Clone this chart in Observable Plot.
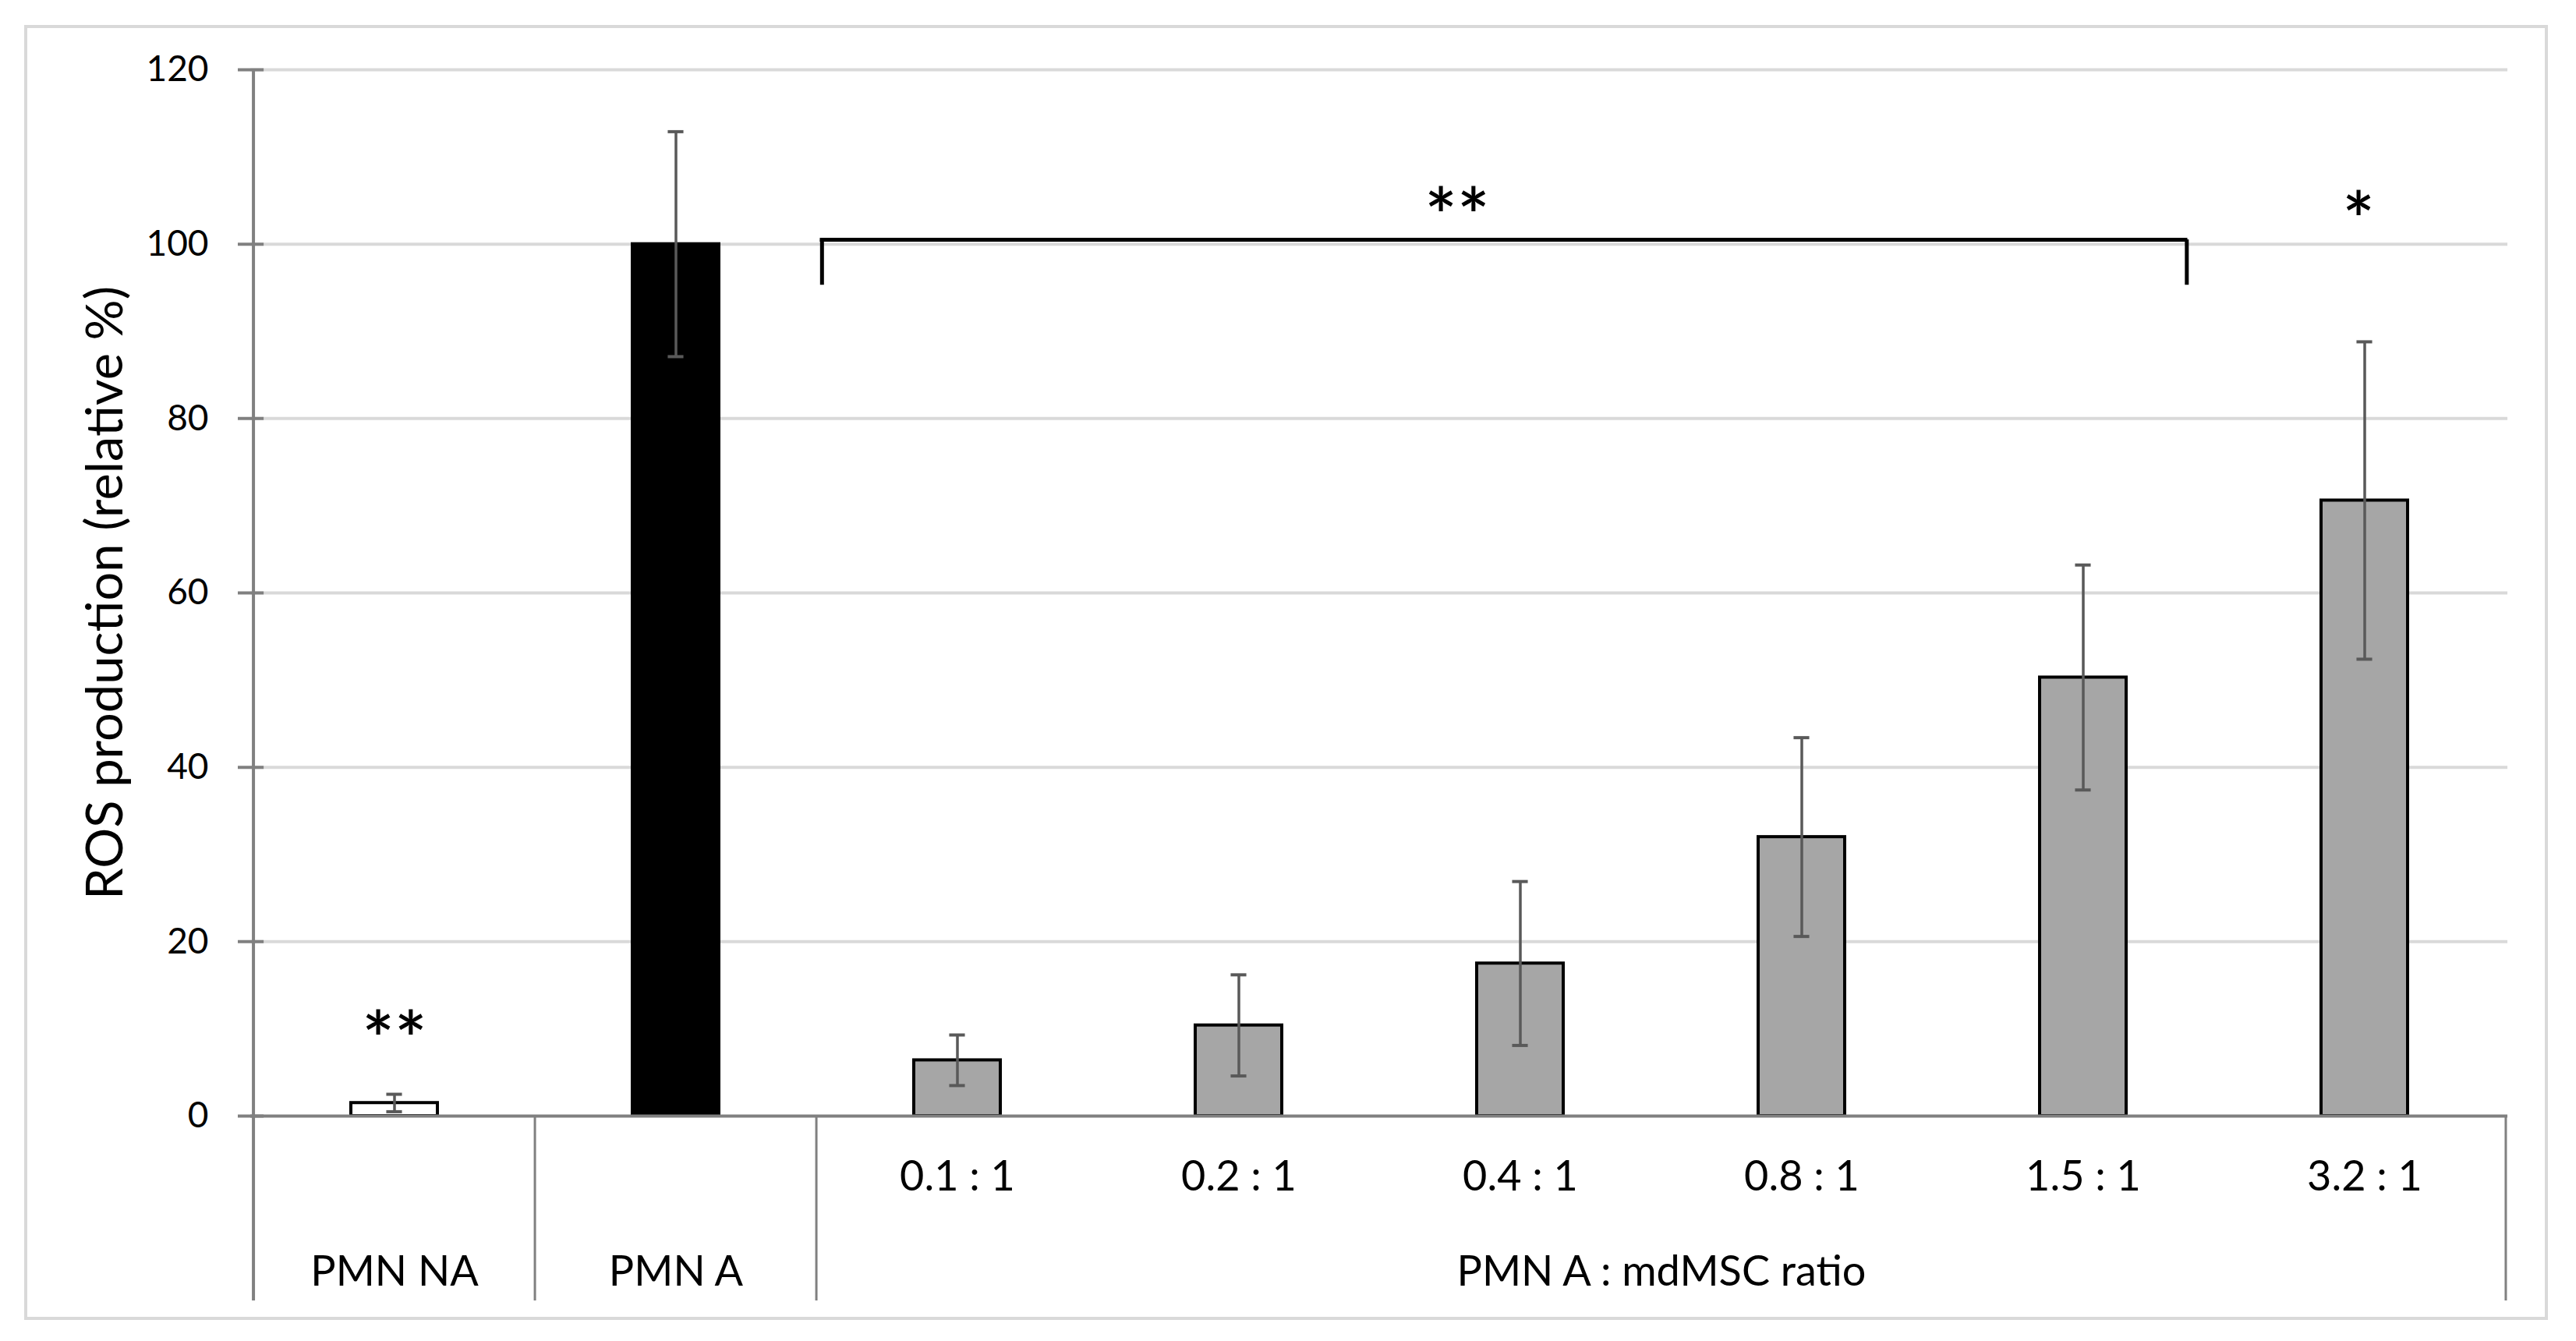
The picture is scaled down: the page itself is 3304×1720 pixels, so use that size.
<!DOCTYPE html>
<html>
<head>
<meta charset="utf-8">
<script src="https://cdn.jsdelivr.net/npm/d3@7"></script>
<script src="https://cdn.jsdelivr.net/npm/@observablehq/plot@0.6"></script>
<style>
html, body { margin: 0; padding: 0; background: #ffffff; }
#wrap { position: relative; width: 3304px; height: 1720px; overflow: hidden; }
#border { position: absolute; left: 31px; top: 32px; width: 3237px; height: 1661px; box-sizing: border-box; border: 4px solid #d9d9d9; pointer-events: none; }
g[aria-label="stars"] text { letter-spacing: 1px; }
</style>
</head>
<body>
<div id="wrap"><div id="border"></div></div>
<script>
// ---- data ----
const categories = ["PMN NA", "PMN A", "0.1 : 1", "0.2 : 1", "0.4 : 1", "0.8 : 1", "1.5 : 1", "3.2 : 1"];
const values = [1.5, 100, 6.4, 10.4, 17.5, 32.0, 50.3, 70.6];
const errors = [1.0, 12.9, 2.9, 5.8, 9.4, 11.4, 12.9, 18.2];
const yTicks = [0, 20, 40, 60, 80, 100, 120];
const ratioLabels = ["0.1 : 1", "0.2 : 1", "0.4 : 1", "0.8 : 1", "1.5 : 1", "3.2 : 1"];
const groupLabels = ["PMN NA", "PMN A", "PMN A : mdMSC ratio"];
const yTitle = "ROS production (relative %)";
const bracketFrom = "0.1 : 1";
const bracketTo = "1.5 : 1";
const bracketTop = 100.5;
const bracketBottom = 95.3;
const starCats = ["PMN NA", "0.4 : 1", "3.2 : 1"];
const starY = [8.4, 102.8, 102.4];
const starText = ["**", "**", "*"];

// ---- layout ----
const W = 3304, H = 1720, ML = 321, MR = 88, MT = 89, MB = 289;
const bw = (W - ML - MR) / categories.length;
const below = 237; // extension of category dividers under the axis
const data = categories.map((c, i) => ({cat: c, value: values[i], err: errors[i]}));
const fillFor = c => c === "PMN NA" ? "#ffffff" : c === "PMN A" ? "#000000" : "#a6a6a6";
const stars = starCats.map((c, i) => ({cat: c, y: starY[i], text: starText[i]}));
const starDx = [0, -81, -8];
const FONT = "Lato, 'Open Sans', 'DejaVu Sans', sans-serif";

const chart = Plot.plot({
  width: W, height: H,
  marginLeft: ML, marginRight: MR, marginTop: MT, marginBottom: MB,
  style: {fontFamily: FONT, fontSize: "45px", color: "#000", background: "#fff", overflow: "visible"},
  x: {type: "band", domain: categories, padding: 0, axis: null},
  y: {domain: [0, 120], axis: null},
  color: {type: "identity"},
  marks: [
    // gridlines
    Plot.ruleY(yTicks.filter(t => t > 0), {stroke: "#d9d9d9", strokeWidth: 4}),
    // bars
    Plot.barY(data, {x: "cat", y: "value", fill: d => fillFor(d.cat), stroke: "#000", strokeWidth: 4, insetLeft: 125, insetRight: 125}),
    // error bars
    Plot.ruleX(data, {x: "cat", y1: d => d.value - d.err, y2: d => d.value + d.err, stroke: "#595959", strokeWidth: 3.5}),
    Plot.tickY(data, {x: "cat", y: d => d.value + d.err, stroke: "#595959", strokeWidth: 4, insetLeft: (bw - 21) / 2, insetRight: (bw - 21) / 2}),
    Plot.tickY(data, {x: "cat", y: d => d.value - d.err, stroke: "#595959", strokeWidth: 4, insetLeft: (bw - 21) / 2, insetRight: (bw - 21) / 2}),
    // y ticks (crossing the axis)
    Plot.tickY(yTicks, {y: d => d, x: () => categories[0], insetLeft: -20, insetRight: bw - 14, stroke: "#808080", strokeWidth: 4}),
    // y tick labels
    Plot.axisY({ticks: yTicks, tickSize: 0, tickPadding: 54, fontSize: 46, fill: "#000", label: null}),
    // x axis line
    Plot.ruleY([0], {stroke: "#808080", strokeWidth: 4}),
    // y axis line (continues down as first divider)
    Plot.ruleX([categories[0]], {x: d => d, dx: -bw / 2, y1: 120, y2: 0, insetBottom: -below, stroke: "#808080", strokeWidth: 4}),
    // category group dividers
    Plot.ruleX([categories[1], categories[2]], {x: d => d, dx: -bw / 2, y1: 0, y2: 0, insetBottom: -below, stroke: "#808080", strokeWidth: 3}),
    Plot.ruleX([categories[categories.length - 1]], {x: d => d, dx: bw / 2, y1: 0, y2: 0, insetBottom: -below, stroke: "#808080", strokeWidth: 3}),
    // ratio tick labels
    Plot.text(ratioLabels, {x: d => d, y: 0, dy: 78, fontSize: 54, fill: "#000"}),
    // group labels
    Plot.text(groupLabels.slice(0, 2), {x: d => d, y: 0, dy: 200, fontSize: 54, fill: "#000"}),
    Plot.text([groupLabels[2]], {x: () => "0.4 : 1", y: 0, dx: bw / 2, dy: 200, fontSize: 54, fill: "#000"}),
    // y title
    Plot.text([yTitle], {frameAnchor: "left", textAnchor: "middle", rotate: -90, dx: -185, fontSize: 65, fill: "#000"}),
    // significance bracket
    Plot.ruleY([bracketTop], {x1: () => bracketFrom, x2: () => bracketTo, insetLeft: 4.5, insetRight: 46.5, stroke: "#000", strokeWidth: 5}),
    Plot.ruleX([bracketFrom], {x: d => d, dx: 1052 - (ML + 2.5 * bw), y1: bracketTop, y2: bracketBottom, stroke: "#000", strokeWidth: 5}),
    Plot.ruleX([bracketTo], {x: d => d, dx: 2806 - (ML + 6.5 * bw), y1: bracketTop, y2: bracketBottom, stroke: "#000", strokeWidth: 5}),
    // significance stars
    ...stars.map((s, i) => Plot.text([s], {x: "cat", y: "y", text: "text", dx: starDx[i], fontSize: 98, fontWeight: 600, fill: "#000", ariaLabel: "stars"}))
  ]
});
document.getElementById("wrap").prepend(chart);
</script>
</body>
</html>
